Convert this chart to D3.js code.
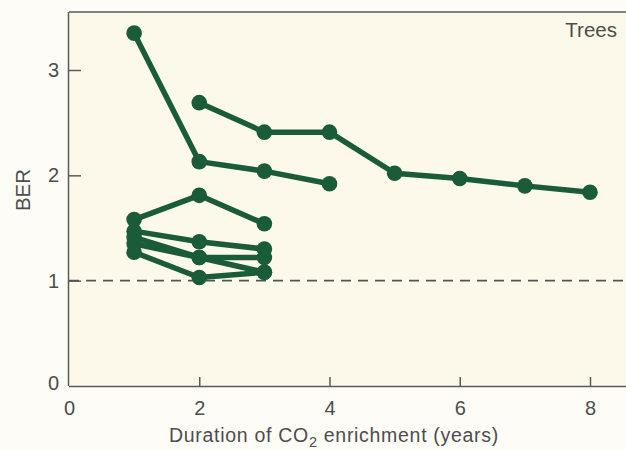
<!DOCTYPE html>
<html>
<head>
<meta charset="utf-8">
<script src="https://cdn.jsdelivr.net/npm/d3@7"></script>
<style>
  html, body { margin: 0; padding: 0; background: #fdfcf7; }
  svg { display: block; }
  text { font-family: "Liberation Sans", Arial, sans-serif; fill: #4d4d4d; }
</style>
</head>
<body>
<svg id="chart" width="626" height="450"></svg>
<script>
// Duration of CO2 enrichment (years) and biomass enhancement ratio for each tree study
const xTicks = [0, 2, 4, 6, 8];
const yTicks = [0, 1, 2, 3];
const studyA = [[1, 3.35], [2, 2.13], [3, 2.04], [4, 1.92]];
const studyB = [[2, 2.69], [3, 2.41], [4, 2.41], [5, 2.02], [6, 1.97], [7, 1.90], [8, 1.84]];
const studyC = [[1, 1.58], [2, 1.81], [3, 1.54]];
const studyD = [[1, 1.47], [2, 1.37], [3, 1.30]];
const studyE = [[1, 1.41], [2, 1.22], [3, 1.22]];
const studyF = [[1, 1.35], [2, 1.22], [3, 1.08]];
const studyG = [[1, 1.27], [2, 1.03], [3, 1.08]];
const studies = [studyA, studyB, studyC, studyD, studyE, studyF, studyG];
const referenceBER = 1;

const svg = d3.select("#chart");
const W = 626, H = 450;
const mLeft = 69, mTop = 12, mBottom = 386;
const tickFont = 20;

const x = d3.scaleLinear().domain([0, 8]).range([mLeft, 590]);
const y = d3.scaleLinear().domain([0, 3]).range([mBottom, 70]);

const axisColor = "#5a5a5a";
const green = "#1a5c3a";

// plot panel
svg.append("rect")
  .attr("x", mLeft).attr("y", mTop)
  .attr("width", W - mLeft).attr("height", mBottom - mTop)
  .attr("fill", "#fdf9ea");

// top border
svg.append("line")
  .attr("x1", mLeft).attr("x2", W).attr("y1", mTop).attr("y2", mTop)
  .attr("stroke", axisColor).attr("stroke-width", 1.5);

// x axis with inward ticks
const xAxis = d3.axisBottom(x).tickValues(xTicks).tickFormat(d3.format("d"))
  .tickSize(-9).tickPadding(15).tickSizeOuter(0);
const gx = svg.append("g").attr("transform", `translate(0,${mBottom})`).call(xAxis);
gx.select(".domain").attr("d", `M${mLeft},0.5H${W}`).attr("stroke", axisColor).attr("stroke-width", 1.5);
gx.selectAll(".tick line").attr("stroke", axisColor).attr("stroke-width", 1.5);
gx.selectAll(".tick text").attr("font-size", tickFont).attr("fill", "#4d4d4d")
  .attr("font-family", "Liberation Sans, Arial, sans-serif");
gx.selectAll(".tick").filter(d => d === 0).select("line").remove();

// y axis with inward ticks
const yAxis = d3.axisLeft(y).tickValues(yTicks).tickFormat(d3.format("d"))
  .tickSize(-12).tickPadding(10).tickSizeOuter(0);
const gy = svg.append("g").attr("transform", `translate(${mLeft},0)`).call(yAxis);
gy.select(".domain").attr("d", `M-0.5,${mTop}V${mBottom}`).attr("stroke", axisColor).attr("stroke-width", 1.5);
gy.selectAll(".tick line").attr("stroke", axisColor).attr("stroke-width", 1.5);
gy.selectAll(".tick text").attr("font-size", tickFont).attr("fill", "#4d4d4d")
  .attr("font-family", "Liberation Sans, Arial, sans-serif");
gy.selectAll(".tick").filter(d => d === 0).select("line").remove();
gy.selectAll(".tick").filter(d => d === 0).select("text").attr("dy", "0.15em");

// BER = 1 reference line
svg.append("line")
  .attr("x1", mLeft).attr("x2", W)
  .attr("y1", y(referenceBER)).attr("y2", y(referenceBER))
  .attr("stroke", "#555").attr("stroke-width", 1.6)
  .attr("stroke-dasharray", "10,7");

// study lines and points
const line = d3.line().x(d => x(d[0])).y(d => y(d[1]));
const g = svg.append("g");
studies.forEach(s => {
  g.append("path").attr("d", line(s))
    .attr("fill", "none").attr("stroke", green)
    .attr("stroke-width", 5.5).attr("stroke-linejoin", "round");
});
studies.forEach(s => {
  g.selectAll(null).data(s).enter().append("circle")
    .attr("cx", d => x(d[0])).attr("cy", d => y(d[1]))
    .attr("r", 7.8).attr("fill", green);
});

// labels
svg.append("text").attr("x", 617).attr("y", 37).attr("text-anchor", "end")
  .attr("font-size", 20.5).text("Trees");

svg.append("text")
  .attr("transform", `translate(30,190) rotate(-90)`)
  .attr("text-anchor", "middle").attr("font-size", 20.5).text("BER");

const xt = svg.append("text").attr("x", 334).attr("y", 442)
  .attr("text-anchor", "middle").attr("font-size", 19.5).attr("letter-spacing", 0.7);
xt.append("tspan").text("Duration of CO");
xt.append("tspan").attr("font-size", 14.5).attr("dy", 5).text("2");
xt.append("tspan").attr("dy", -5).text(" enrichment (years)");
</script>
</body>
</html>
